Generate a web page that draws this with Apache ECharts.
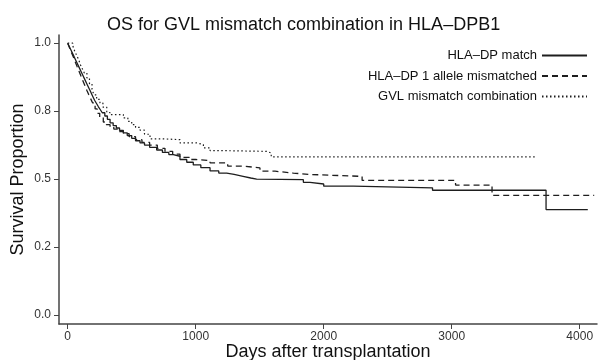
<!DOCTYPE html>
<html>
<head>
<meta charset="utf-8">
<script src="https://cdn.jsdelivr.net/npm/echarts@6/dist/echarts.min.js"></script>
<style>
  html, body { margin: 0; padding: 0; background: #fff; }
  #chart { width: 598px; height: 360px; }
</style>
</head>
<body>
<div id="chart"></div>
<script>
// Kaplan-Meier steps: day and survival proportion
const matchDays = [0, 15, 30, 45, 60, 75, 90, 105, 120, 135, 150, 165, 180, 195, 210, 225, 240, 255, 270, 290, 310, 331, 355, 380, 405, 435, 465, 500, 530, 565, 600, 640, 695, 740, 790, 825, 877, 930, 981, 1040, 1112, 1180, 1242, 1300, 1370, 1430, 1476, 1841, 1893, 2000, 2231, 2850, 3737, 4063]
const matchSurv = [1.0, 0.985, 0.97, 0.955, 0.94, 0.925, 0.91, 0.895, 0.88, 0.865, 0.85, 0.835, 0.82, 0.805, 0.79, 0.778, 0.766, 0.755, 0.744, 0.732, 0.72, 0.707, 0.697, 0.688, 0.679, 0.67, 0.66, 0.65, 0.641, 0.633, 0.625, 0.617, 0.607, 0.598, 0.59, 0.584, 0.572, 0.562, 0.552, 0.542, 0.53, 0.522, 0.517, 0.51, 0.504, 0.50, 0.498, 0.488, 0.482, 0.474, 0.468, 0.459, 0.388, 0.388]

const mis1Days = [0, 15, 30, 45, 60, 75, 90, 105, 120, 135, 150, 165, 180, 195, 214, 230, 250, 278, 300, 331, 360, 400, 435, 480, 530, 580, 640, 700, 760, 820, 877, 950, 1000, 1112, 1250, 1370, 1502, 1620, 1763, 1893, 2300, 3030, 3315, 4113]
const mis1Surv = [1.0, 0.982, 0.965, 0.948, 0.93, 0.912, 0.895, 0.877, 0.86, 0.843, 0.826, 0.81, 0.795, 0.78, 0.758, 0.742, 0.728, 0.71, 0.70, 0.692, 0.684, 0.675, 0.667, 0.656, 0.645, 0.635, 0.625, 0.613, 0.602, 0.592, 0.58, 0.572, 0.568, 0.56, 0.548, 0.541, 0.529, 0.522, 0.517, 0.51, 0.495, 0.478, 0.44, 0.44]

const gvlDays = [0, 40, 55, 70, 85, 100, 115, 130, 150, 170, 190, 205, 226, 252, 275, 305, 330, 435, 470, 500, 530, 565, 600, 643, 747, 877, 1008, 1060, 1112, 1164, 1555, 1590, 3664]
const gvlSurv = [1.0, 0.99, 0.97, 0.955, 0.94, 0.92, 0.905, 0.89, 0.872, 0.85, 0.83, 0.81, 0.793, 0.78, 0.765, 0.745, 0.737, 0.725, 0.712, 0.70, 0.69, 0.68, 0.665, 0.648, 0.645, 0.633, 0.627, 0.615, 0.605, 0.602, 0.596, 0.582, 0.582]

const xTicks = [0, 1000, 2000, 3000, 4000]
const yTicks = [0, 0.25, 0.5, 0.75, 1.0]
const yTickLabels = ['0.0', '0.2', '0.5', '0.8', '1.0']

const seriesNames = ['HLA\u2013DP match', 'HLA\u2013DP 1 allele mismatched', 'GVL mismatch combination']

const font = "'Liberation Sans', Arial, sans-serif"
const ink = '#1e1e1e'

function pairs(xs, ys) {
  return xs.map((x, i) => [x, ys[i]])
}

function kmLine(name, xs, ys, dash, width) {
  return {
    name: name,
    type: 'line',
    step: 'end',
    symbol: 'none',
    data: pairs(xs, ys),
    lineStyle: { color: ink, width: width, type: dash },
    itemStyle: { color: ink },
    emphasis: { disabled: true }
  }
}

let chart = echarts.init(document.getElementById('chart'))
let option = {
  animation: false,
  title: {
    text: 'OS for GVL mismatch combination in HLA\u2013DPB1',
    left: 102,
    top: 11,
    textStyle: { fontFamily: font, fontSize: 18, fontWeight: 'normal', color: '#111' }
  },
  legend: {
    orient: 'vertical',
    align: 'right',
    right: 5,
    top: 44,
    itemWidth: 45,
    itemHeight: 14,
    itemGap: 7.5,
    data: seriesNames,
    itemStyle: { opacity: 0 },
    textStyle: { fontFamily: font, fontSize: 13, color: '#111' }
  },
  grid: { left: 59, right: 1, top: 35, bottom: 36, outerBoundsMode: 'none', containLabel: false },
  xAxis: {
    type: 'value',
    min: -68,
    max: 4135,
    name: 'Days after transplantation',
    nameLocation: 'middle',
    nameGap: 19,
    nameMoveOverlap: false,
    nameTextStyle: { fontFamily: font, fontSize: 18, color: '#111' },
    axisLine: { onZero: false, lineStyle: { color: '#444', width: 1.5 } },
    axisTick: { show: true, length: 5, customValues: xTicks, lineStyle: { color: '#444' } },
    axisLabel: {
      customValues: xTicks,
      margin: 7,
      fontFamily: font,
      fontSize: 12,
      color: '#333',
      formatter: v => String(v)
    },
    splitLine: { show: false }
  },
  yAxis: {
    type: 'value',
    min: -0.033,
    max: 1.03,
    name: 'Survival Proportion',
    nameLocation: 'middle',
    nameGap: 32,
    nameMoveOverlap: false,
    nameTextStyle: { fontFamily: font, fontSize: 18, color: '#111' },
    axisLine: { show: true, onZero: false, lineStyle: { color: '#444', width: 1.5 } },
    axisTick: { show: true, length: 5, customValues: yTicks, lineStyle: { color: '#444' } },
    axisLabel: {
      customValues: yTicks,
      margin: 8,
      fontFamily: font,
      fontSize: 12,
      color: '#333',
      formatter: v => yTickLabels[yTicks.indexOf(v)]
    },
    splitLine: { show: false }
  },
  series: [
    kmLine(seriesNames[0], matchDays, matchSurv, 'solid', 1.3),
    kmLine(seriesNames[1], mis1Days, mis1Surv, [6, 4], 1.3),
    kmLine(seriesNames[2], gvlDays, gvlSurv, [1.5, 2.5], 1.2)
  ]
}
chart.setOption(option)
</script>
</body>
</html>
